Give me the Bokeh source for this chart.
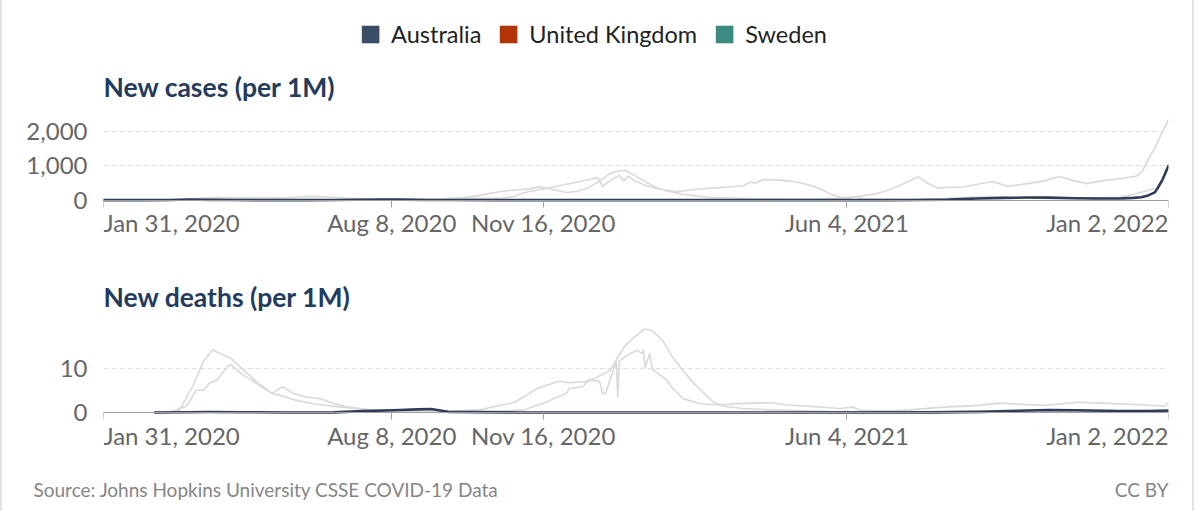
from datetime import datetime
import pandas as pd
from bokeh.plotting import figure
from bokeh.models import (Range1d, FixedTicker, Legend, LegendItem, Label, Div,
                          NumeralTickFormatter, CustomJSTickFormatter, ColumnDataSource)
from bokeh.layouts import column, row
from bokeh.embed import file_html
from bokeh.resources import INLINE

# ---------------- data ----------------
countries = ["Australia", "United Kingdom", "Sweden"]
legend_colors = ["#3c4e66", "#b13507", "#3c8a80"]

cases_uk_dates = ["2020-01-31", "2020-03-01", "2020-03-15", "2020-03-25", "2020-04-05", "2020-04-12",
                  "2020-04-25", "2020-05-10", "2020-06-01", "2020-06-20", "2020-07-10", "2020-08-08",
                  "2020-08-25", "2020-09-10", "2020-09-25", "2020-10-04", "2020-10-12", "2020-10-20",
                  "2020-10-30", "2020-11-06", "2020-11-13", "2020-11-20", "2020-12-01", "2020-12-08",
                  "2020-12-15", "2020-12-22", "2020-12-29", "2021-01-04", "2021-01-09", "2021-01-15",
                  "2021-01-22", "2021-01-29", "2021-02-07", "2021-02-16", "2021-02-25", "2021-03-05",
                  "2021-03-20", "2021-04-01", "2021-04-15", "2021-05-01", "2021-05-15", "2021-06-01",
                  "2021-06-12", "2021-06-24", "2021-07-01", "2021-07-08", "2021-07-15", "2021-07-21",
                  "2021-07-27", "2021-08-03", "2021-08-10", "2021-08-20", "2021-08-29", "2021-09-08",
                  "2021-09-18", "2021-10-01", "2021-10-12", "2021-10-22", "2021-11-01", "2021-11-09",
                  "2021-11-19", "2021-12-02", "2021-12-12", "2021-12-16", "2021-12-19", "2021-12-24",
                  "2021-12-28", "2022-01-02"]
cases_uk = [0, 0.3, 4, 25, 55, 72,
            68, 50, 25, 15, 10, 12,
            18, 40, 80, 130, 200, 260,
            300, 320, 385, 330, 220, 250,
            350, 520, 750, 840, 870, 720,
            540, 370, 250, 170, 120, 80,
            60, 45, 35, 30, 35, 60,
            110, 190, 290, 410, 560, 680,
            500, 350, 370, 380, 460, 540,
            400, 480, 560, 690, 560, 480,
            560, 630, 700, 850, 1130, 1520,
            1900, 2340]

cases_se_dates = ["2020-01-31", "2020-03-01", "2020-03-15", "2020-04-01", "2020-04-20", "2020-05-10",
                  "2020-06-01", "2020-06-15", "2020-06-25", "2020-07-10", "2020-07-25", "2020-08-08",
                  "2020-09-01", "2020-09-20", "2020-10-05", "2020-10-20", "2020-10-28", "2020-11-02",
                  "2020-11-09", "2020-11-20", "2020-12-01", "2020-12-08", "2020-12-15", "2020-12-22",
                  "2020-12-25", "2020-12-28", "2021-01-01", "2021-01-05", "2021-01-08", "2021-01-11",
                  "2021-01-15", "2021-01-22", "2021-01-30", "2021-02-07", "2021-02-12", "2021-02-22",
                  "2021-03-06", "2021-03-18", "2021-03-28", "2021-04-01", "2021-04-05", "2021-04-10",
                  "2021-04-18", "2021-04-27", "2021-05-05", "2021-05-12", "2021-05-19", "2021-05-24",
                  "2021-05-31", "2021-06-06", "2021-06-10", "2021-06-14", "2021-06-25", "2021-07-15",
                  "2021-08-05", "2021-08-25", "2021-09-10", "2021-09-25", "2021-10-15", "2021-11-01",
                  "2021-11-20", "2021-11-30", "2021-12-08", "2021-12-15", "2021-12-20", "2021-12-24"]
cases_se = [0, 0.5, 8, 30, 55, 55,
            75, 110, 100, 55, 30, 25,
            20, 35, 55, 60, 110, 200,
            270, 360, 460, 520, 590, 650,
            390, 510, 620, 720, 560, 700,
            560, 430, 330, 280, 240, 300,
            350, 380, 420, 520, 500, 600,
            590, 560, 500, 420, 300, 180,
            80, 50, 110, 40, 25, 25,
            40, 80, 90, 60, 50, 60,
            75, 80, 150, 230, 290, 345]

cases_au_dates = ["2020-01-31", "2020-03-01", "2020-03-15", "2020-03-28", "2020-04-10", "2020-04-25",
                  "2020-05-15", "2020-06-15", "2020-07-01", "2020-07-15", "2020-08-01", "2020-08-15",
                  "2020-09-01", "2020-09-20", "2020-10-15", "2020-11-15", "2020-12-20", "2021-01-10",
                  "2021-02-15", "2021-04-15", "2021-06-01", "2021-07-01", "2021-07-20", "2021-08-10",
                  "2021-08-29", "2021-09-15", "2021-10-01", "2021-10-15", "2021-11-01", "2021-11-15",
                  "2021-12-01", "2021-12-10", "2021-12-15", "2021-12-19", "2021-12-24", "2021-12-26",
                  "2021-12-29", "2022-01-02"]
cases_au = [0, 0.2, 5, 18, 8, 1.5,
            0.7, 0.8, 2.5, 10, 17, 14,
            5, 1.5, 0.6, 0.4, 0.8, 1,
            0.3, 0.4, 0.5, 1, 5, 14,
            45, 65, 75, 72, 55, 45,
            48, 65, 85, 125, 225, 360,
            590, 1000]

deaths_uk_dates = ["2020-03-10", "2020-03-21", "2020-03-30", "2020-04-06", "2020-04-12", "2020-04-17",
                   "2020-04-24", "2020-05-03", "2020-05-12", "2020-05-21", "2020-05-28", "2020-06-04",
                   "2020-06-18", "2020-07-06", "2020-07-28", "2020-08-20", "2020-09-12", "2020-10-05",
                   "2020-10-28", "2020-11-12", "2020-11-26", "2020-12-03", "2020-12-16", "2020-12-30",
                   "2021-01-08", "2021-01-13", "2021-01-22", "2021-01-27", "2021-02-03", "2021-02-09",
                   "2021-02-16", "2021-02-23", "2021-03-02", "2021-03-08", "2021-03-15", "2021-03-27",
                   "2021-04-14", "2021-05-30", "2021-06-22", "2021-07-15", "2021-08-07", "2021-08-30",
                   "2021-09-12", "2021-09-21", "2021-10-13", "2021-11-03", "2021-11-18", "2021-12-11",
                   "2021-12-30", "2022-01-02"]
deaths_uk = [0, 0.5, 6, 11.6, 14.1, 13.2,
             12.2, 9.3, 6.6, 4.3, 3.7, 2.9,
             1.9, 1.2, 0.5, 0.3, 0.2, 0.6,
             2.3, 5.4, 7.0, 6.7, 7.0, 9.5,
             14.7, 16.4, 18.9, 18.3, 16.0, 12.5,
             9.4, 6.6, 4.3, 2.3, 1.4, 0.9,
             0.6, 0.15, 0.2, 0.6, 1.2, 1.6,
             2.1, 1.95, 1.6, 2.3, 2.1, 1.8,
             1.4, 2.1]

deaths_se_dates = ["2020-03-15", "2020-03-26", "2020-04-01", "2020-04-06", "2020-04-10", "2020-04-15",
                   "2020-04-22", "2020-04-24", "2020-04-30", "2020-05-07", "2020-05-16", "2020-05-21",
                   "2020-05-28", "2020-06-04", "2020-06-13", "2020-06-22", "2020-07-02", "2020-07-11",
                   "2020-07-24", "2020-08-15", "2020-09-15", "2020-10-15", "2020-11-04", "2020-11-08",
                   "2020-11-18", "2020-11-23", "2020-12-01", "2020-12-03", "2020-12-12", "2020-12-16",
                   "2020-12-23", "2020-12-25", "2020-12-27", "2020-12-30", "2021-01-03", "2021-01-04",
                   "2021-01-05", "2021-01-12", "2021-01-17", "2021-01-20", "2021-01-21", "2021-01-22",
                   "2021-01-25", "2021-01-27", "2021-01-31", "2021-02-05", "2021-02-09", "2021-02-16",
                   "2021-02-28", "2021-03-13", "2021-03-23", "2021-04-14", "2021-04-26", "2021-05-19",
                   "2021-05-30", "2021-06-08", "2021-06-13", "2021-07-15", "2021-09-21", "2021-11-15",
                   "2022-01-02"]
deaths_se = [0, 1.5, 5, 5, 6.6, 7.4,
             10.4, 10.8, 8.9, 7.4, 5.4, 4.3,
             5.8, 4.3, 3.5, 3.1, 1.9, 1.2,
             0.6, 0.35, 0.2, 0.2, 0.6, 1.2,
             2.3, 3.2, 4.3, 5.4, 5.8, 7.4,
             7.0, 4.3, 4.3, 7.4, 11.6, 3.5,
             11.6, 13.2, 14.0, 13.2, 14.0, 10.1,
             13.2, 9.7, 8.6, 7.4, 5.5, 3.1,
             1.9, 1.7, 2.0, 2.2, 1.7, 1.2,
             0.9, 1.2, 0.5, 0.15, 0.4, 0.3,
             0.2]

deaths_au_dates = ["2020-03-05", "2020-03-25", "2020-04-10", "2020-05-01", "2020-06-01", "2020-07-01",
                   "2020-07-20", "2020-08-09", "2020-08-25", "2020-09-03", "2020-09-08", "2020-09-14",
                   "2020-10-01", "2020-11-01", "2021-01-01", "2021-08-01", "2021-09-01", "2021-09-25",
                   "2021-10-15", "2021-11-01", "2021-12-01", "2021-12-20", "2022-01-02"]
deaths_au = [0, 0.05, 0.12, 0.06, 0.01, 0.02,
             0.3, 0.5, 0.7, 0.8, 0.5, 0.15,
             0.08, 0.01, 0.0, 0.02, 0.15, 0.4,
             0.55, 0.5, 0.35, 0.3, 0.45]

xtick_dates = ["2020-01-31", "2020-08-08", "2020-11-16", "2021-06-04", "2022-01-02"]
xtick_labels = ["Jan 31, 2020", "Aug 8, 2020", "Nov 16, 2020", "Jun 4, 2021", "Jan 2, 2022"]
cases_yticks = [0, 1000, 2000]
deaths_yticks = [0, 10]
panel_titles = ["New cases (per 1M)", "New deaths (per 1M)"]
source_text = "Source: Johns Hopkins University CSSE COVID-19 Data"
license_text = "CC BY"

# ---------------- styling ----------------
FONT = "Lato"
EDGE = 2            # width of the light frame lines at the left and right
W = 1190            # width of the chart body between the frame lines
GRAY_LINE = "#d9d9d9"
AU_LINE = "#2e3c59"
TICK_COLOR = "#666666"
TITLE_COLOR = "#233b5d"
AXIS_COLOR = "#a0a0a0"
FRAME_COLOR = "#e3e3e3"


def ms(d):
    return pd.Timestamp(d).value / 1e6


x_range = Range1d(start=datetime(2020, 1, 31), end=datetime(2022, 1, 2))
tick_ms = [ms(d) for d in xtick_dates]


def make_panel(title, height, top, bottom, yrange, yticks, series):
    p = figure(width=W, height=height, x_axis_type="datetime", x_range=x_range,
               y_range=yrange, output_backend="svg", toolbar_location=None,
               min_border_left=101, min_border_right=24, min_border_top=top,
               min_border_bottom=bottom, title=title)
    p.title.text_font = FONT
    p.title.text_font_size = "26.5px"
    p.title.text_font_style = "bold"
    p.title.text_color = TITLE_COLOR
    p.title.align = "left"
    p.title.standoff = 32
    p.outline_line_color = None
    p.background_fill_color = "white"
    p.border_fill_color = "white"
    p.xgrid.visible = False
    p.ygrid.grid_line_color = "#dddddd"
    p.ygrid.grid_line_dash = "5 3"
    p.ygrid.grid_line_width = 1

    yax = p.yaxis[0]
    yax.ticker = FixedTicker(ticks=yticks)
    yax.formatter = NumeralTickFormatter(format="0,0")
    yax.axis_line_color = None
    yax.major_tick_line_color = None
    yax.minor_tick_line_color = None
    yax.major_label_text_font = FONT
    yax.major_label_text_font_size = "24px"
    yax.major_label_text_color = TICK_COLOR
    yax.major_label_standoff = 10

    xax = p.xaxis[0]
    xax.fixed_location = 0
    xax.ticker = FixedTicker(ticks=tick_ms)
    xax.formatter = CustomJSTickFormatter(code="return ''")
    xax.axis_line_color = AXIS_COLOR
    xax.major_tick_line_color = AXIS_COLOR
    xax.major_tick_out = 7
    xax.major_tick_in = 0
    xax.minor_tick_line_color = None

    for (dates, vals, color, width) in series:
        src = ColumnDataSource(dict(x=pd.to_datetime(dates), y=vals))
        p.line("x", "y", source=src, line_color=color, line_width=width,
               line_join="round", line_cap="round")

    n = len(xtick_dates)
    for i, (d, lab) in enumerate(zip(xtick_dates, xtick_labels)):
        align = "left" if i == 0 else ("right" if i == n - 1 else "center")
        p.add_layout(Label(x=ms(d), y=0, y_offset=-22.5, text=lab, text_align=align,
                           text_baseline="middle", text_font=FONT, text_font_size="24px",
                           text_color=TICK_COLOR))
    return p


# legend panel
leg = figure(width=W, height=52, x_range=Range1d(0, 1), y_range=Range1d(0, 1),
             output_backend="svg", toolbar_location=None, frame_align=False,
             min_border_left=0, min_border_right=8, min_border_top=0, min_border_bottom=0)
leg.axis.visible = False
leg.grid.visible = False
leg.outline_line_color = None
items = []
for name, col in zip(countries, legend_colors):
    r = leg.quad(left=[-5], right=[-4], bottom=[-5], top=[-4], fill_color=col, line_color=None)
    items.append(LegendItem(label=name, renderers=[r]))
legend = Legend(items=items, orientation="horizontal", location="bottom_center",
                label_text_font=FONT, label_text_font_size="23.5px", label_text_color="#222222",
                glyph_width=22, glyph_height=22, label_standoff=10, spacing=16,
                padding=0, margin=4, border_line_color=None, background_fill_alpha=0)
leg.add_layout(legend)

cases = make_panel(panel_titles[0], 198, 65, 10, Range1d(-1175, 2375), cases_yticks, [
    (cases_uk_dates, cases_uk, GRAY_LINE, 1.6),
    (cases_se_dates, cases_se, GRAY_LINE, 1.6),
    (cases_au_dates, cases_au, AU_LINE, 2.6),
])

deaths = make_panel(panel_titles[1], 210, 78, 8, Range1d(-8.99, 18.88), deaths_yticks, [
    (deaths_uk_dates, deaths_uk, GRAY_LINE, 1.6),
    (deaths_se_dates, deaths_se, GRAY_LINE, 1.6),
    (deaths_au_dates, deaths_au, AU_LINE, 2.6),
])

# footer panel
foot = figure(width=W, height=51, x_range=Range1d(0, W), y_range=Range1d(0, 51),
              output_backend="svg", toolbar_location=None, frame_align=False,
              min_border_left=0, min_border_right=0, min_border_top=0, min_border_bottom=0)
foot.axis.visible = False
foot.grid.visible = False
foot.outline_line_color = None
foot.add_layout(Label(x=31, y=22, text=source_text, text_align="left", text_baseline="middle",
                      text_font=FONT, text_font_size="19px", text_color="#858585"))
foot.add_layout(Label(x=1166, y=22, text=license_text, text_align="right", text_baseline="middle",
                      text_font=FONT, text_font_size="19px", text_color="#858585"))

body = column(leg, cases, deaths, foot, spacing=0)
left_edge = Div(width=EDGE, height=511, margin=0, styles={"background-color": FRAME_COLOR})
right_edge = Div(width=EDGE, height=511, margin=0, styles={"background-color": FRAME_COLOR})
layout = row(left_edge, body, right_edge, spacing=0)
open("out.html", "w").write(file_html(layout, INLINE))
